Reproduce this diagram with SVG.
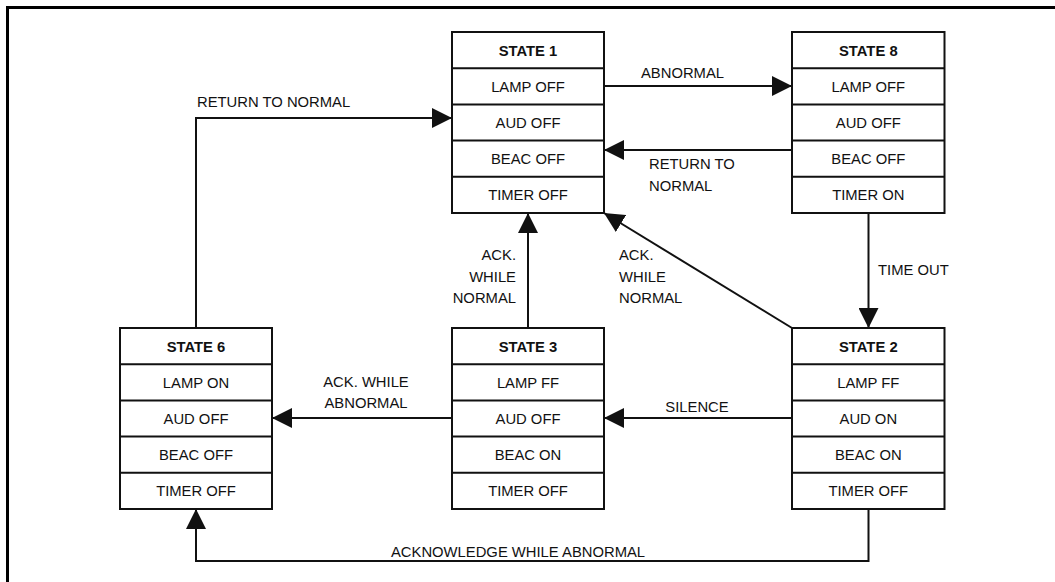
<svg xmlns="http://www.w3.org/2000/svg" width="1055" height="582" viewBox="0 0 1055 582">
<style>
.box{fill:#fff;stroke:#111;stroke-width:2}
.sep{stroke:#111;stroke-width:2}
.t{font-family:"Liberation Sans",Arial,sans-serif;font-size:14.8px;fill:#111}
.c{text-anchor:middle}
.h{font-weight:bold}
.e{text-anchor:end}
.ln{fill:none;stroke:#111;stroke-width:2}
</style>
<defs>
<marker id="ah" markerUnits="userSpaceOnUse" markerWidth="20" markerHeight="20" refX="20" refY="10" orient="auto" viewBox="0 0 20 20">
<path d="M0,0 L20,10 L0,20 z" fill="#111"/>
</marker>
</defs>
<rect x="0" y="0" width="1055" height="582" fill="#fff"/>
<rect x="7.5" y="7.5" width="1060" height="600" fill="none" stroke="#000" stroke-width="3"/>

<g id="connectors">
<line class="ln" x1="604" y1="86" x2="792" y2="86" marker-end="url(#ah)"/>
<line class="ln" x1="792" y1="150" x2="604" y2="150" marker-end="url(#ah)"/>
<polyline class="ln" points="196,328 196,118 452,118" marker-end="url(#ah)"/>
<line class="ln" x1="528" y1="328" x2="528" y2="213" marker-end="url(#ah)"/>
<line class="ln" x1="792" y1="328" x2="604" y2="213" marker-end="url(#ah)"/>
<line class="ln" x1="868.5" y1="213" x2="868.5" y2="328" marker-end="url(#ah)"/>
<line class="ln" x1="792" y1="418" x2="604" y2="418" marker-end="url(#ah)"/>
<line class="ln" x1="452" y1="418" x2="272" y2="418" marker-end="url(#ah)"/>
<polyline class="ln" points="868.5,509 868.5,561 196,561 196,509" marker-end="url(#ah)"/>
<text class="t" x="641" y="78">ABNORMAL</text>
<text class="t" x="649" y="169">RETURN TO</text>
<text class="t" x="649" y="191">NORMAL</text>
<text class="t" x="197" y="107">RETURN TO NORMAL</text>
<text class="t e" x="516" y="260">ACK.</text>
<text class="t e" x="516" y="282">WHILE</text>
<text class="t e" x="516" y="303">NORMAL</text>
<text class="t" x="619" y="260">ACK.</text>
<text class="t" x="619" y="282">WHILE</text>
<text class="t" x="619" y="303">NORMAL</text>
<text class="t" x="878" y="275">TIME OUT</text>
<text class="t c" x="697" y="412">SILENCE</text>
<text class="t c" x="366" y="387">ACK. WHILE</text>
<text class="t c" x="366" y="408">ABNORMAL</text>
<text class="t" x="391" y="557">ACKNOWLEDGE WHILE ABNORMAL</text>
</g>

<g id="state1">
<rect class="box" x="452" y="32" width="152" height="181"/>
<path class="sep" d="M452,68.2H604M452,104.4H604M452,140.6H604M452,176.8H604"/>
<text class="t c h" x="528" y="55.5">STATE 1</text>
<text class="t c" x="528" y="91.7">LAMP OFF</text>
<text class="t c" x="528" y="127.9">AUD OFF</text>
<text class="t c" x="528" y="164.1">BEAC OFF</text>
<text class="t c" x="528" y="200.3">TIMER OFF</text>
</g>

<g id="state8">
<rect class="box" x="792" y="32" width="152.5" height="181"/>
<path class="sep" d="M792,68.2H944.5M792,104.4H944.5M792,140.6H944.5M792,176.8H944.5"/>
<text class="t c h" x="868.3" y="55.5">STATE 8</text>
<text class="t c" x="868.3" y="91.7">LAMP OFF</text>
<text class="t c" x="868.3" y="127.9">AUD OFF</text>
<text class="t c" x="868.3" y="164.1">BEAC OFF</text>
<text class="t c" x="868.3" y="200.3">TIMER ON</text>
</g>

<g id="state6">
<rect class="box" x="120" y="328" width="152" height="181"/>
<path class="sep" d="M120,364.2H272M120,400.4H272M120,436.6H272M120,472.8H272"/>
<text class="t c h" x="196" y="351.5">STATE 6</text>
<text class="t c" x="196" y="387.7">LAMP ON</text>
<text class="t c" x="196" y="423.9">AUD OFF</text>
<text class="t c" x="196" y="460.1">BEAC OFF</text>
<text class="t c" x="196" y="496.3">TIMER OFF</text>
</g>

<g id="state3">
<rect class="box" x="452" y="328" width="152" height="181"/>
<path class="sep" d="M452,364.2H604M452,400.4H604M452,436.6H604M452,472.8H604"/>
<text class="t c h" x="528" y="351.5">STATE 3</text>
<text class="t c" x="528" y="387.7">LAMP FF</text>
<text class="t c" x="528" y="423.9">AUD OFF</text>
<text class="t c" x="528" y="460.1">BEAC ON</text>
<text class="t c" x="528" y="496.3">TIMER OFF</text>
</g>

<g id="state2">
<rect class="box" x="792" y="328" width="152.5" height="181"/>
<path class="sep" d="M792,364.2H944.5M792,400.4H944.5M792,436.6H944.5M792,472.8H944.5"/>
<text class="t c h" x="868.3" y="351.5">STATE 2</text>
<text class="t c" x="868.3" y="387.7">LAMP FF</text>
<text class="t c" x="868.3" y="423.9">AUD ON</text>
<text class="t c" x="868.3" y="460.1">BEAC ON</text>
<text class="t c" x="868.3" y="496.3">TIMER OFF</text>
</g>
</svg>
